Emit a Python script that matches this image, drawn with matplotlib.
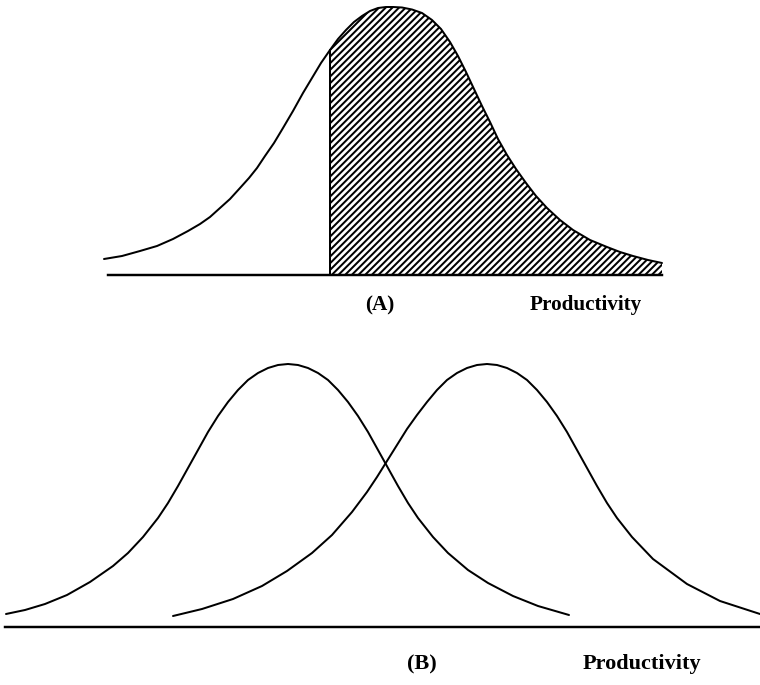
import numpy as np
import matplotlib
matplotlib.use("Agg")
import matplotlib.pyplot as plt

# values, in picture pixels (y grows downwards)

# panel A: skewed productivity curve, shaded right of the cut-off
top_x = [104, 122, 140, 157, 173, 188, 200, 210, 220, 230, 240, 249, 257, 265,
         274, 283, 293, 303, 312, 321, 330, 338, 346, 354, 362, 370, 378, 386,
         393, 402, 412, 422, 432, 441, 450, 458, 466, 474, 482, 490, 498, 507,
         516, 526, 536, 547, 560, 573, 590, 607, 620, 633, 648, 662]
top_y = [259, 256, 251, 246, 239, 231, 224, 217, 208, 199, 188, 178, 168, 156,
         143, 128, 111, 93, 78, 63, 50, 39, 30, 22, 16, 11, 8, 7,
         7, 7.5, 9.5, 13, 20, 29, 42, 56, 72, 89, 106, 122, 139, 155,
         169, 183, 196, 208, 220, 230, 240, 247, 252, 256, 260, 263]
top_base = 275
top_base_x = [108, 662]
cutoff = 330

# panel B: two bell curves
left_x = [6, 25, 45, 67, 90, 113, 128, 143, 158, 168, 178, 188, 198, 208, 218,
          228, 238, 248, 258, 268, 278, 288, 298, 308, 318, 328, 338, 348, 358,
          368, 378, 388, 398, 408, 418, 433, 448, 468, 488, 513, 538, 569]
left_y = [614, 610, 604, 595, 582, 566, 553, 537, 518, 503, 486, 468, 450, 432, 416,
          402, 390, 380, 373, 368, 365, 364, 365, 368, 373, 380, 390, 402, 416,
          432, 450, 468, 486, 503, 518, 537, 553, 570, 583, 596, 606, 615]
right_x = [173, 202, 233, 262, 287, 312, 332, 352, 367, 377, 387, 397, 407, 417,
           427, 437, 447, 457, 467, 477, 487, 497, 507, 517, 527, 537, 547, 557,
           567, 577, 587, 597, 607, 617, 632, 653, 687, 720, 760]
right_y = [616, 609, 599, 586, 571, 553, 535, 512, 492, 477, 461, 445, 429, 415,
           402, 390, 380, 373, 368, 365, 364, 365, 368, 373, 380, 390, 402, 416,
           432, 450, 468, 486, 503, 518, 537, 559, 584, 601, 614]
bot_base = 627
bot_base_x = [5, 760]

labels_a = ["(A)", "Productivity"]
labels_b = ["(B)", "Productivity"]

plt.rcParams["hatch.linewidth"] = 1.8

fig = plt.figure(figsize=(9.5, 8.5625), dpi=80)
ax = fig.add_axes([0, 0, 1, 1])
ax.set_xlim(0, 760)
ax.set_ylim(685, 0)
ax.axis("off")

lw = 1.8
style = dict(color="black", lw=lw, solid_joinstyle="round", solid_capstyle="round")

# panel A
tx = np.array(top_x)
ty = np.array(top_y)
mask = tx >= cutoff
ax.fill_between(tx[mask], ty[mask], top_base, facecolor="white",
                edgecolor="black", linewidth=0, hatch="////")
ax.plot(tx, ty, **style)
ax.plot([cutoff, cutoff], [ty[tx == cutoff][0], top_base], color="black", lw=lw)
ax.plot(top_base_x, [top_base, top_base], color="black", lw=2.2)

font = dict(family="Liberation Serif", weight="bold", color="black")
ax.text(380, 305, labels_a[0], ha="center", va="center", fontsize=19, **font)
ax.text(530, 305, labels_a[1], ha="left", va="center", fontsize=19, **font)

# panel B
ax.plot(left_x, left_y, **style)
ax.plot(right_x, right_y, **style)
ax.plot(bot_base_x, [bot_base, bot_base], color="black", lw=2.2)

ax.text(422, 664, labels_b[0], ha="center", va="center", fontsize=20, **font)
ax.text(583, 664, labels_b[1], ha="left", va="center", fontsize=20, **font)

fig.savefig("out.png", dpi=80)
